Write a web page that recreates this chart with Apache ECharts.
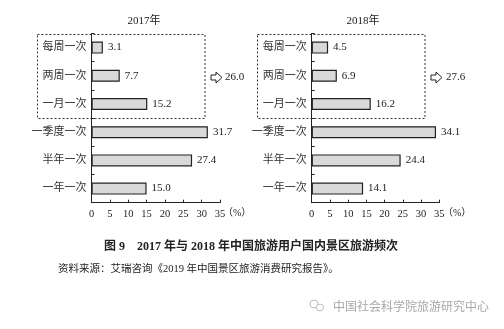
<!DOCTYPE html>
<html><head><meta charset="utf-8">
<script src="https://cdn.jsdelivr.net/npm/echarts@6/dist/echarts.min.js"></script>
<style>html,body{margin:0;padding:0;background:#fff}#c{width:504px;height:329px}</style>
</head><body><div id="c"></div>
<script>
const categories = ['每周一次','两周一次','一月一次','一季度一次','半年一次','一年一次'];
const values2017 = [3.1, 7.7, 15.2, 31.7, 27.4, 15.0];
const values2018 = [4.5, 6.9, 16.2, 34.1, 24.4, 14.1];
const xTicks = [0, 5, 10, 15, 20, 25, 30, 35];
const sum2017 = '26.0';
const sum2018 = '27.6';
const titles = ['2017年', '2018年'];

const SERIF = '"Liberation Serif","DejaVu Serif","Noto Sans CJK SC",serif';
const chart = echarts.init(document.getElementById('c'));
const grids = [
  {left: 91.5, top: 33.5, width: 128.5, height: 169.2},
  {left: 311.7, top: 33.5, width: 127.6, height: 169.2}
];
function xAx(i){return {gridIndex:i,type:'value',min:xTicks[0],max:xTicks[xTicks.length-1],interval:5,
  axisLine:{show:true,lineStyle:{color:'#222',width:1}},
  axisTick:{show:true,inside:true,length:3,lineStyle:{color:'#222'}},
  splitLine:{show:false},
  axisLabel:{fontFamily:SERIF,fontSize:10.5,color:'#222',margin:6}};}
function yAx(i){return {gridIndex:i,type:'category',data:categories,inverse:true,
  axisLine:{show:true,lineStyle:{color:'#222',width:1}},
  axisTick:{show:true,inside:true,length:3,lineStyle:{color:'#222'}},
  axisLabel:{fontFamily:SERIF,fontSize:11,color:'#333',margin:5}};}
function ser(i,d){return {type:'bar',xAxisIndex:i,yAxisIndex:i,data:d,barWidth:12,
  itemStyle:{color:'#d9d9d9',borderColor:'#222',borderWidth:1.2},
  label:{show:true,position:'right',distance:5,fontFamily:SERIF,fontSize:11,color:'#222',
    formatter:p=>p.value.toFixed(1)},silent:true};}
function arrow(x,y){return {type:'polygon',shape:{points:[[x,y-2.5],[x+5,y-2.5],[x+5,y-5.5],[x+11,y],[x+5,y+5.5],[x+5,y+2.5],[x,y+2.5]]},
  style:{fill:'#fff',stroke:'#222',lineWidth:1}};}
function txt(x,y,t,o){return Object.assign({type:'text',x:x,y:y,style:Object.assign({text:t,fontFamily:SERIF,fontSize:11,fill:'#222',textVerticalAlign:'middle',verticalAlign:'middle'},o||{})});}
chart.setOption({
  animation:false,
  grid:grids,
  xAxis:[xAx(0),xAx(1)],
  yAxis:[yAx(0),yAx(1)],
  series:[ser(0,values2017),ser(1,values2018)],
  graphic:[
    {type:'rect',shape:{x:37.5,y:34.5,width:167.5,height:84},style:{fill:null,stroke:'#333',lineWidth:1,lineDash:[2,2]}},
    {type:'rect',shape:{x:257.5,y:34.5,width:167.5,height:84},style:{fill:null,stroke:'#333',lineWidth:1,lineDash:[2,2]}},
    arrow(211,77.5), arrow(431,77.5),
    txt(225,77.5,sum2017), txt(446,77.5,sum2018),
    txt(144,21.5,titles[0],{textAlign:'center',align:'center'}),
    txt(363,21.5,titles[1],{textAlign:'center',align:'center'}),
    txt(223,213,'（%）',{fontSize:10}),
    txt(443,213,'（%）',{fontSize:10}),
    txt(251,246.5,'图 9　2017 年与 2018 年中国旅游用户国内景区旅游频次',{textAlign:'center',align:'center',fontSize:12,fontWeight:'bold'}),
    txt(58,269,'资料来源：艾瑞咨询《2019 年中国景区旅游消费研究报告》。',{fontSize:10.5}),
    {type:'circle',shape:{cx:314,cy:304,r:4},style:{fill:'#fff',stroke:'#bbb',lineWidth:1}},
    {type:'circle',shape:{cx:320,cy:307.5,r:3.5},style:{fill:'#fff',stroke:'#bbb',lineWidth:1}},
    txt(333,306,'中国社会科学院旅游研究中心',{fontFamily:'"Noto Sans CJK SC",sans-serif',fontSize:12,fill:'#a8a8a8'})
  ]
});
</script></body></html>
